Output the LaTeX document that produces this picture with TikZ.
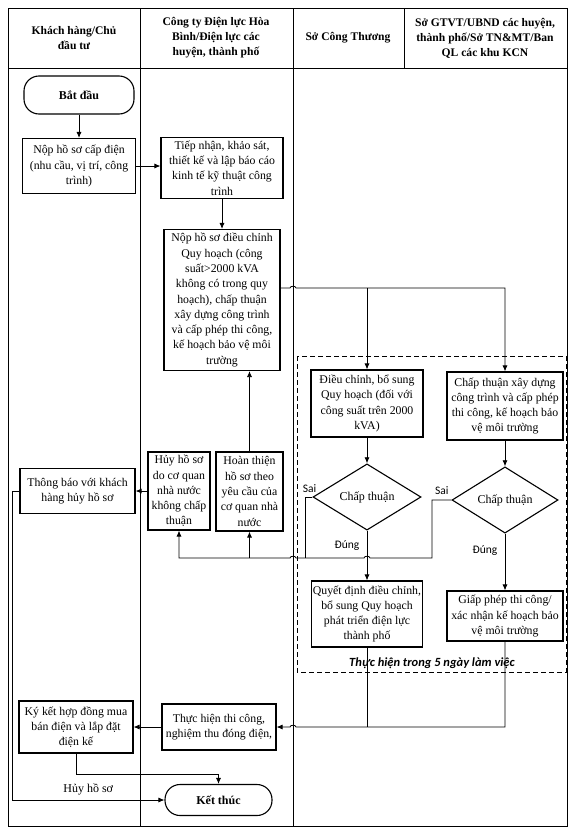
\documentclass[tikz,border=0pt]{standalone}
\usepackage{fontspec}
\setmainfont{Liberation Serif}
\newfontfamily\calib{Carlito}
\usetikzlibrary{arrows.meta,shapes.geometric,positioning}

\begin{document}
\begin{tikzpicture}[x=1pt, y=-1pt,
    box/.style = {draw, line width=1.1pt, align=center, inner sep=0.5pt,
                  font=\fontsize{11.8}{15.3}\selectfont},
    term/.style = {box, rounded corners=15pt, font=\fontsize{12}{14}\selectfont\bfseries},
    decide/.style = {diamond, draw, line width=1.1pt, inner sep=0pt,
                  font=\fontsize{12}{14}\selectfont},
    head/.style = {align=center, font=\fontsize{11.6}{15}\selectfont\bfseries},
    line/.style = {line width=0.8pt},
    arrow/.style = {line, -{Latex[length=6pt,width=5pt]}},
    note/.style = {font=\calib\fontsize{11.5}{13}\selectfont}]
\useasboundingbox (0,0) rectangle (575,838);

% lanes
\draw[line width=1pt] (8,8) rectangle (567,826);
\draw[line width=1pt] (8,68) -- (567,68);
\draw[line width=1pt] (140,8) -- (140,826);
\draw[line width=1pt] (293,8) -- (293,826);
\draw[line width=1pt] (404,8) -- (404,68);
\node[head] (h1) at (74,38) {Khách hàng/Chủ\\đầu tư};
\node[head] (h2) at (216,38) {Công ty Điện lực Hòa\\Bình/Điện lực các\\huyện, thành phố};
\node[head] (h3) at (348,38) {Sở Công Thương};
\node[head] (h4) at (485,38) {Sở GTVT/UBND các huyện,\\thành phố/Sở TN\&MT/Ban\\QL các khu KCN};

\draw[dashed, line width=1pt, dash pattern=on 5pt off 3pt] (297,356) rectangle (566,672);
\node[font=\calib\fontsize{12.5}{14}\selectfont\bfseries\itshape] (days) at (432,663) {Thực hiện trong 5 ngày làm việc};

% steps
\node[term, minimum width=110pt, minimum height=38pt] (start) at (79,95) {Bắt đầu};
\node[box, minimum width=113pt, minimum height=55pt] (submit) at (79,166)
    {Nộp hồ sơ cấp điện\\(nhu cầu, vị trí, công\\trình)};
\node[box, minimum width=122pt, minimum height=61pt] (survey) at (222,168)
    {Tiếp nhận, khảo sát,\\thiết kế và lập báo cáo\\kinh tế kỹ thuật công\\trình};
\node[box, minimum width=116pt, minimum height=141pt] (adjust) at (222,300)
    {Nộp hồ sơ điều chỉnh\\Quy hoạch (công\\suất>2000 kVA\\không có trong quy\\hoạch), chấp thuận\\xây dựng công trình\\và cấp phép thi công,\\kế hoạch bảo vệ môi\\trường};
\node[box, minimum width=112pt, minimum height=67pt] (plan) at (367,403.5)
    {Điều chỉnh, bổ sung\\Quy hoạch (đối với\\công suất trên 2000\\kVA)};
\node[box, minimum width=116pt, minimum height=68pt] (approve) at (505,406)
    {Chấp thuận xây dựng\\công trình và cấp phép\\thi công, kế hoạch bảo\\vệ môi trường};
\node[decide, minimum width=108pt, minimum height=60pt] (dec1) at (367,497) {Chấp thuận};
\node[decide, minimum width=106pt, minimum height=60pt] (dec2) at (505,500) {Chấp thuận};
\node[box, minimum width=111pt, minimum height=66pt] (decision) at (367,614)
    {Quyết định điều chỉnh,\\bổ sung Quy hoạch\\phát triển điện lực\\thành phố};
\node[box, minimum width=116pt, minimum height=50pt] (permit) at (505,616)
    {Giấp phép thi công/\\xác nhận kế hoạch bảo\\vệ môi trường};
\node[box, minimum width=62pt, minimum height=78pt] (cancel) at (179,491)
    {Hủy hồ sơ\\do cơ quan\\nhà nước\\không chấp\\thuận};
\node[box, minimum width=67pt, minimum height=79pt] (complete) at (249.5,491.5)
    {Hoàn thiện\\hồ sơ theo\\yêu cầu của\\cơ quan nhà\\nước};
\node[box, minimum width=115pt, minimum height=45pt] (notify) at (77.5,491)
    {Thông báo với khách\\hàng hủy hồ sơ};
\node[box, minimum width=114pt, minimum height=46pt] (build) at (219,727)
    {Thực hiện thi công,\\nghiệm thu đóng điện,};
\node[box, minimum width=114pt, minimum height=52pt] (contract) at (76,727)
    {Ký kết hợp đồng mua\\bán điện và lắp đặt\\điện kế};
\node[term, minimum width=107pt, minimum height=31pt] (end) at (218.5,800) {Kết thúc};

% connectors
\coordinate (fork) at ([yshift=12pt]adjust.east);
\coordinate (back) at (300,558);
\coordinate (merge) at (400,727);
\draw[arrow] (start) -- (submit);
\draw[arrow] (submit.east) -- (submit.east -| survey.west);
\draw[arrow] (survey) -- (adjust);
\draw[arrow] (fork) -- (290,288) to[out=90,in=90] (296,288) -| (approve.north);
\draw[arrow] (plan.north |- fork) -- (plan.north);
\draw[arrow] (plan) -- (dec1);
\draw[arrow] (approve) -- (dec2);
\draw[arrow] (dec1) -- node[note, pos=0.3, left=4pt] {Đúng} (decision);
\draw[arrow] (dec2) -- node[note, pos=0.3, left=4pt] {Đúng} (permit);
\draw[line] (dec1.west) -| node[note, pos=0.2, above=1pt] {Sai} (305,558);
\draw[arrow] (dec2.west) -| node[note, pos=0.25, above=2pt] {Sai} (432,558)
    -- (370,558) to[out=90,in=90] (364,558) -- (296,558) to[out=90,in=90] (290,558) -| (cancel.south);
\draw[arrow] (complete.south |- back) -- (complete.south);
\draw[arrow] (complete.north) -- (complete.north |- adjust.south);
\draw[arrow] (cancel.west) -- (notify.east);
\draw[arrow] (notify.west) -- (12,491) |- node[pos=0.75, above=1pt, font=\fontsize{12}{14}\selectfont] {Hủy hồ sơ} (end.west);
\draw[line] (decision.south) -- (decision.south |- merge);
\draw[arrow] (permit.south) |- (296,727) to[out=90,in=90] (290,727) -- (build.east);
\draw[arrow] (build.west) -- (contract.east);
\draw[arrow] (contract.south) -- ++(0,21) -| (end.north);
\end{tikzpicture}
\end{document}
